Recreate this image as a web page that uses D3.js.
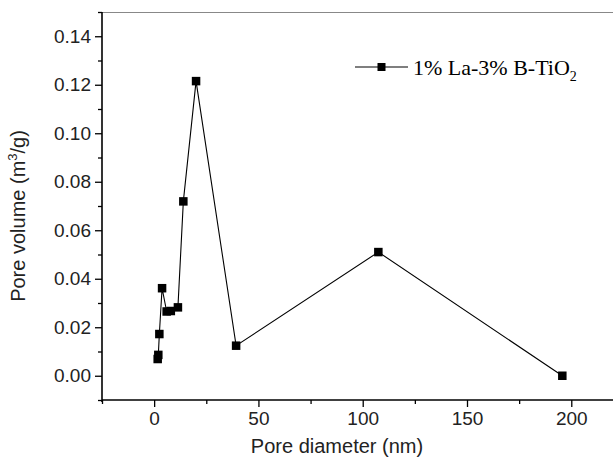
<!DOCTYPE html>
<html><head><meta charset="utf-8">
<script src="https://cdn.jsdelivr.net/npm/d3@7"></script>
<style>body{margin:0;background:#fff}svg{display:block}</style>
</head><body>
<svg id="c" width="613" height="463"></svg>
<script>
const poreDiameter = [1.7, 2.0, 2.5, 3.8, 6.0, 8.0, 11.4, 14.0, 20.1, 39.3, 107.5, 195.7];
const poreVolume   = [0.0069, 0.0086, 0.0172, 0.0361, 0.0265, 0.0267, 0.0282, 0.0719, 0.1215, 0.0124, 0.051, 0.0];
const xTicks = [0, 50, 100, 150, 200];
const xMinor = [-25, 25, 75, 125, 175];
const yTicks = [0, 0.02, 0.04, 0.06, 0.08, 0.10, 0.12, 0.14];
const yMinor = [-0.01, 0.01, 0.03, 0.05, 0.07, 0.09, 0.11, 0.13, 0.15];
const seriesName = "1% La-3% B-TiO";

const svg = d3.select("#c");
const L = 102, R = 613, T = 12, B = 400;
const x = d3.scaleLinear().domain([-25, 220]).range([L, R]);
const y = d3.scaleLinear().domain([-0.01, 0.15]).range([B, T]);
const sans = "Liberation Sans, Arial, sans-serif";

// top frame (gray)
svg.append("line").attr("x1", L).attr("x2", R).attr("y1", T + 0.5).attr("y2", T + 0.5)
  .attr("stroke", "#888").attr("stroke-width", 1.2);

// x axis
const gx = svg.append("g").attr("transform", `translate(0,${B})`);
gx.call(d3.axisBottom(x).tickValues(xTicks).tickSize(7).tickPadding(5).tickFormat(d3.format("d")));
gx.append("g").call(d3.axisBottom(x).tickValues(xMinor).tickSize(4).tickFormat(""));
// y axis
const gy = svg.append("g").attr("transform", `translate(${L},0)`);
gy.call(d3.axisLeft(y).tickValues(yTicks).tickSize(7).tickPadding(4).tickFormat(d3.format(".2f")));
gy.append("g").call(d3.axisLeft(y).tickValues(yMinor).tickSize(4).tickFormat(""));

svg.selectAll(".domain").attr("stroke", "#000").attr("stroke-width", 1.6);
svg.selectAll(".tick line").attr("stroke", "#000").attr("stroke-width", 1.3);
svg.selectAll(".tick text").attr("font-family", sans).attr("font-size", 19).attr("fill", "#222");
gx.selectAll(".domain").attr("d", `M${L},0H${R}`);
gy.selectAll(".domain").attr("d", `M0,${T}V${B + 2}`);
gx.select("g .domain").remove();
gy.select("g .domain").remove();

// axis titles
svg.append("text").attr("x", 337).attr("y", 453)
  .attr("text-anchor", "middle").attr("font-family", sans).attr("font-size", 20).attr("fill", "#222")
  .text("Pore diameter (nm)");
const yt = svg.append("text").attr("transform", `translate(25,216) rotate(-90)`)
  .attr("text-anchor", "middle").attr("font-family", sans).attr("font-size", 20).attr("fill", "#222");
yt.append("tspan").text("Pore volume (m");
yt.append("tspan").attr("font-size", 13).attr("dy", -8).text("3");
yt.append("tspan").attr("dy", 8).text("/g)");

// series line
const pts = poreDiameter.map((d, i) => [d, poreVolume[i]]);
svg.append("path").datum(pts)
  .attr("d", d3.line().x(d => x(d[0])).y(d => y(d[1])))
  .attr("fill", "none").attr("stroke", "#000").attr("stroke-width", 1.1);
const ms = 8.5;
svg.selectAll("rect.m").data(pts).join("rect").attr("class", "m")
  .attr("x", d => x(d[0]) - ms / 2).attr("y", d => y(d[1]) - ms / 2)
  .attr("width", ms).attr("height", ms).attr("fill", "#000");

// legend
const ly = 67;
svg.append("line").attr("x1", 355).attr("x2", 408).attr("y1", ly).attr("y2", ly)
  .attr("stroke", "#000").attr("stroke-width", 1.1);
svg.append("rect").attr("x", 381.5 - 4).attr("y", ly - 4).attr("width", 8).attr("height", 8).attr("fill", "#000");
const lt = svg.append("text").attr("x", 413).attr("y", ly + 8)
  .attr("font-family", "Liberation Serif, Times New Roman, serif").attr("font-size", 22).attr("fill", "#000");
lt.append("tspan").text(seriesName);
lt.append("tspan").attr("font-size", 14).attr("dy", 6).text("2");
</script>
</body></html>
